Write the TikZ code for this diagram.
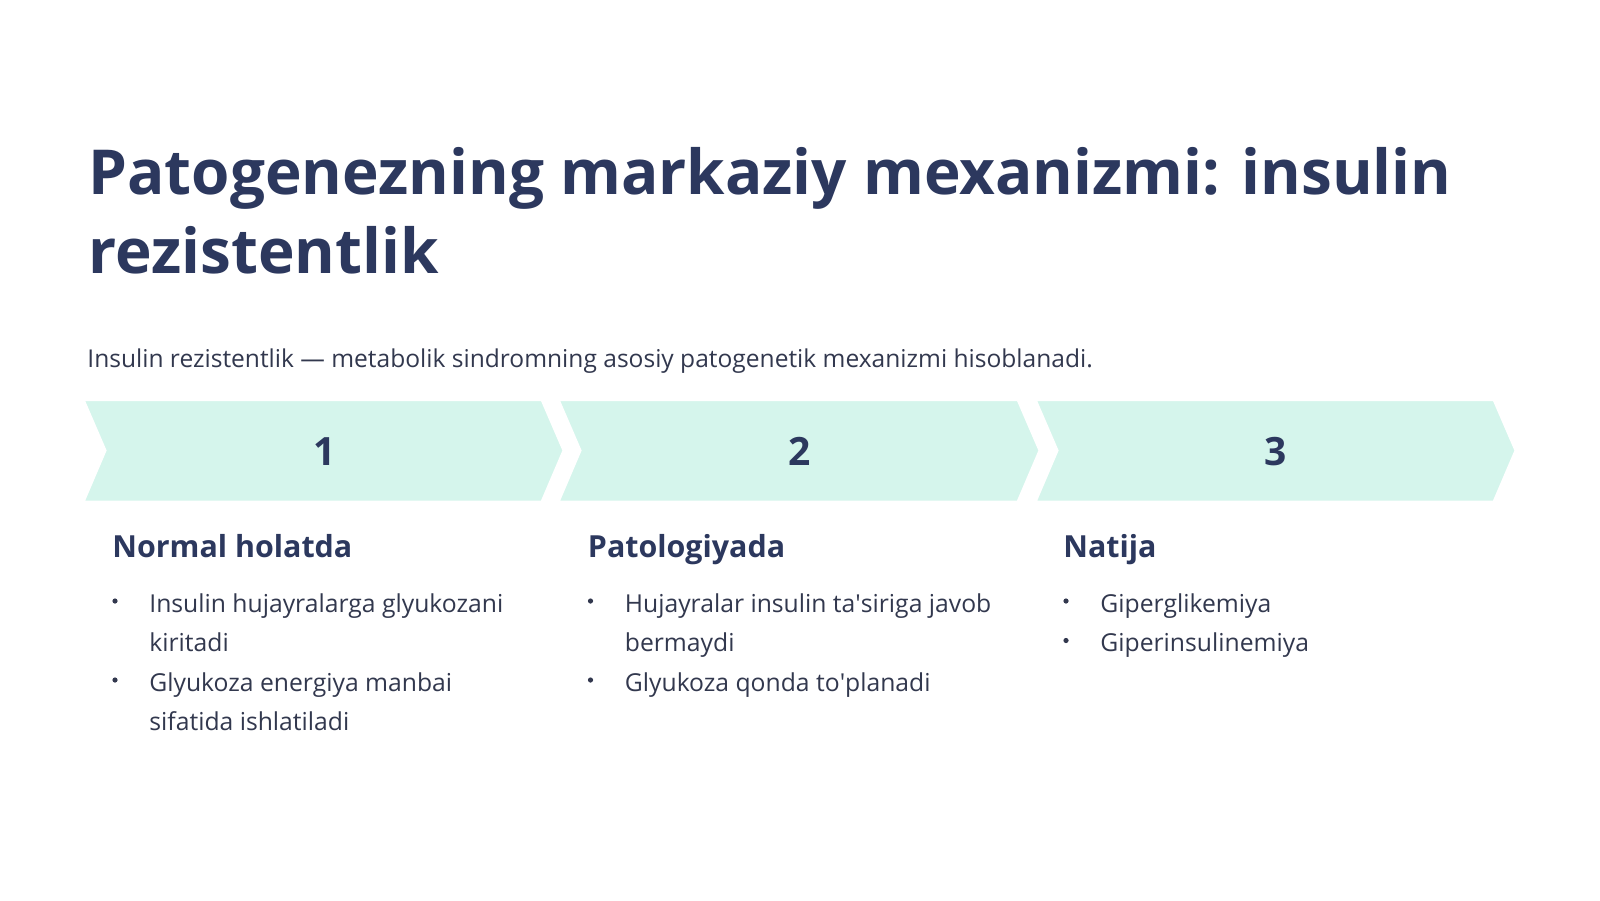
\documentclass[tikz,border=0pt]{standalone}
\usepackage{fontspec}
\setmainfont{Open Sans}
\usepackage{xcolor}
\usepackage{tikz}
\usetikzlibrary{positioning}

\definecolor{navy}{RGB}{44,56,94}
\definecolor{slate}{RGB}{50,56,78}
\definecolor{mint}{RGB}{213,245,236}

\tikzset{
    chev/.style={fill=mint, draw=white, line width=1.5pt, line join=miter},
    stepnum/.style={font=\fontsize{19.5}{24}\selectfont\bfseries, text=navy, inner sep=0pt},
    title/.style={anchor=base west, font=\fontsize{31}{40}\selectfont\bfseries, text=navy, inner sep=0pt},
    head/.style={anchor=base west, font=\fontsize{15.2}{20}\selectfont\bfseries, text=navy, inner sep=0pt},
    item/.style={anchor=base west, font=\fontsize{12.35}{19.75}\selectfont, text=slate, inner sep=0pt, align=left},
    dot/.style={circle, fill=slate, inner sep=0pt, minimum size=2.6pt}
}

\begin{document}
\begin{tikzpicture}[x=0.5pt, y=-0.5pt]
    \useasboundingbox[fill=white] (0,0) rectangle (1600,900);
    % title
    \node[title] (title1) at (88,194) {Patogenezning markaziy mexanizmi: insulin};
    \node[title] (title2) at (88,273) {rezistentlik};
    \node[item, font=\fontsize{12.28}{19.75}\selectfont] (lead) at (87,367) {Insulin rezistentlik — metabolik sindromning asosiy patogenetik mexanizmi hisoblanadi.};
    % chevrons
    \draw[chev] (83,399.5) -- (542,399.5) -- (564,450.5) -- (542,502) -- (83,502) -- (105,450.5) -- cycle;
    \draw[chev] (558,399.5) -- (1018,399.5) -- (1040,450.5) -- (1018,502) -- (558,502) -- (580,450.5) -- cycle;
    \draw[chev] (1035,399.5) -- (1494,399.5) -- (1516,450.5) -- (1494,502) -- (1035,502) -- (1057,450.5) -- cycle;
    \node[stepnum] (n1) at (324.5,451.5) {1};
    \node[stepnum] (n2) at (800,451.5) {2};
    \node[stepnum] (n3) at (1275.5,451.5) {3};
    % col 1
    \node[head] (h1) at (112,557) {Normal holatda};
    \node[dot] (b11) at (115,601) {};
    \node[item] (i11) at (149,651.5) {Insulin hujayralarga glyukozani\\kiritadi};
    \node[dot] (b12) at (115,680) {};
    \node[item] (i12) at (149,730.5) {Glyukoza energiya manbai\\sifatida ishlatiladi};
    % col 2
    \node[head] (h2) at (587.5,557) {Patologiyada};
    \node[dot] (b21) at (590.5,601) {};
    \node[item] (i21) at (624.5,651.5) {Hujayralar insulin ta\textquotesingle siriga javob\\bermaydi};
    \node[dot] (b22) at (590.5,680) {};
    \node[item] (i22) at (624.5,691) {Glyukoza qonda to\textquotesingle planadi};
    % col 3
    \node[head] (h3) at (1063,557) {Natija};
    \node[dot] (b31) at (1066,601) {};
    \node[item] (i31) at (1100,612) {Giperglikemiya};
    \node[dot] (b32) at (1066,640.5) {};
    \node[item] (i32) at (1100,651.5) {Giperinsulinemiya};
\end{tikzpicture}
\end{document}
